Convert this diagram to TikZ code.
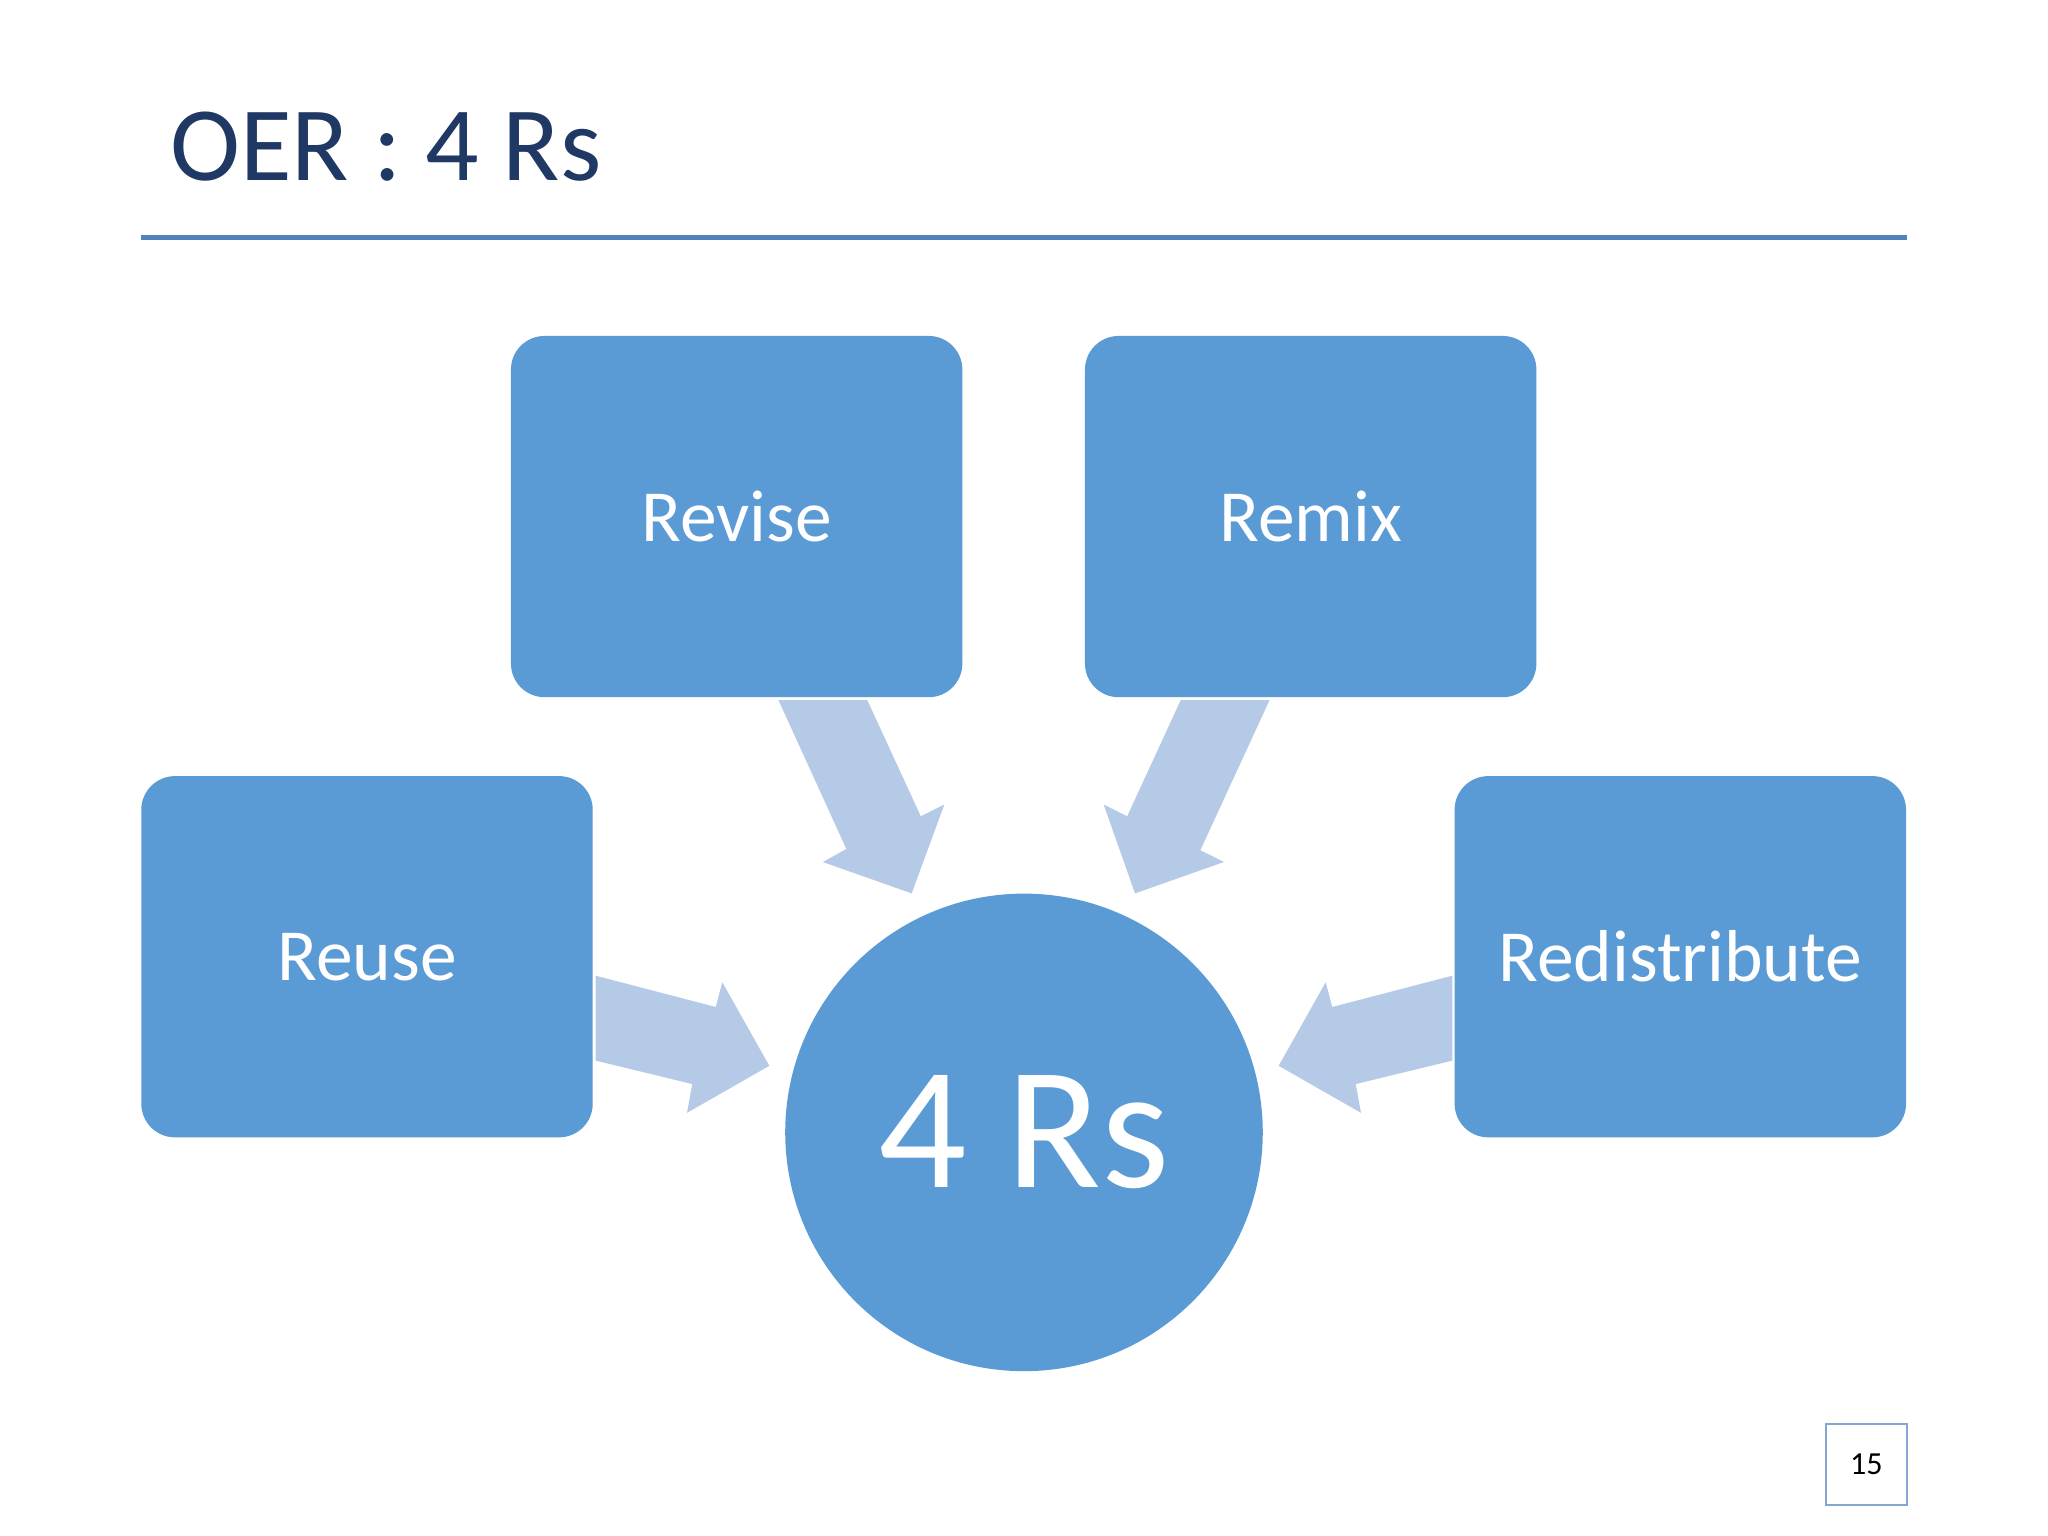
\documentclass[tikz,border=0pt]{standalone}
\usepackage{fontspec}
\setmainfont{Carlito}
\definecolor{navy}{HTML}{1F3864}
\definecolor{boxblue}{HTML}{5B9BD5}
\definecolor{arrowblue}{HTML}{B4CAE7}
\definecolor{lineblue}{HTML}{4F81BD}
\begin{document}
\begin{tikzpicture}[x=0.01cm,y=-0.01cm,
  box/.style={fill=boxblue,draw=boxblue,rounded corners=0.25cm,minimum width=3.44cm,minimum height=2.75cm,text=white,font=\fontsize{16}{18}\selectfont},
  harrow/.style={fill=arrowblue,draw=none}]
\useasboundingbox (0,0) rectangle (1568,1176);
\fill[white] (0,0) rectangle (1568,1176);
\node[anchor=west,text=navy,font=\fontsize{23}{26}\selectfont] (title) at (118,112) {OER : 4 Rs};
\draw[lineblue,line width=1.2pt] (108,182) -- (1460,182);
\node[box] (revise) at (564,395.5) {Revise};
\node[box] (remix) at (1003.5,395.5) {Remix};
\node[box] (reuse) at (281,732.5) {Reuse};
\node[box] (redis) at (1286.5,732.5) {Redistribute};
\node[circle,fill=boxblue,draw=boxblue,minimum size=3.64cm,text=white,font=\fontsize{38}{42}\selectfont] (c) at (784,867) {4 Rs};
\fill[harrow] (596,536) -- (664,536) -- (705,625) -- (723,616) -- (698,684) -- (630,660) -- (648,650) -- cycle;
\fill[harrow] (972,536) -- (904,536) -- (863,625) -- (845,616) -- (869,684) -- (937,660) -- (919,651) -- cycle;
\fill[harrow] (456,747) -- (456,812) -- (530,830) -- (526,852) -- (589,816) -- (553,752) -- (548,771) -- cycle;
\fill[harrow] (1112,747) -- (1112,812) -- (1038,830) -- (1042,852) -- (979,816) -- (1015,752) -- (1020,771) -- cycle;
\node[draw=lineblue!70,minimum width=0.62cm,minimum height=0.62cm,font=\fontsize{7}{8}\selectfont] (page) at (1429,1121) {15};
\end{tikzpicture}
\end{document}
